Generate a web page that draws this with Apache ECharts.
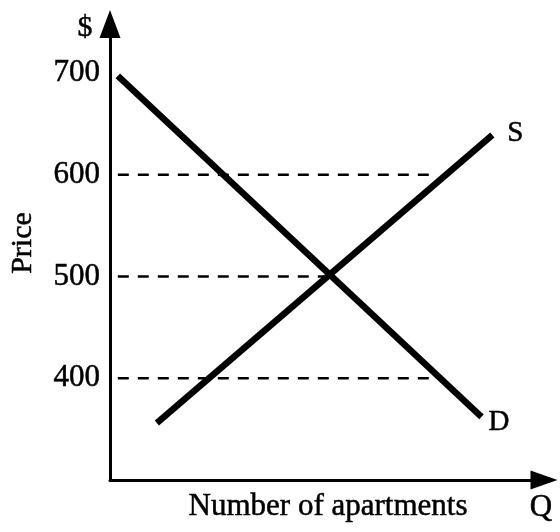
<!DOCTYPE html>
<html>
<head>
<meta charset="utf-8">
<script src="https://cdn.jsdelivr.net/npm/echarts@6/dist/echarts.min.js"></script>
<style>
  html, body { margin: 0; padding: 0; background: #fff; }
  #chart { width: 560px; height: 532px; }
</style>
</head>
<body>
<div id="chart"></div>
<script>
// 数据 (quantity is in arbitrary units, price in $)
var priceTicks = [400, 500, 600, 700];
var demandQ = [1.8, 85.6];
var demandP = [697, 362];
var supplyQ = [10.8, 88.1];
var supplyP = [356, 639];
var guidePrices = [600, 500, 400];
var guideStartQ = [1.8, 1.8, 1.8];
var guideEndQ = [73.6, 50.6, 73.6];

var serif = 'Liberation Serif';

function pairs(xs, ys) {
    return xs.map(function (x, i) { return [x, ys[i]]; });
}

function textEl(txt, x, y, size, rot) {
    return {
        type: 'text', x: x, y: y, rotation: rot || 0,
        style: {
            text: txt, font: size + 'px "Liberation Serif"', fill: '#000',
            stroke: '#000', lineWidth: 0.5,
            textAlign: 'center', textVerticalAlign: 'middle',
            align: 'center', verticalAlign: 'middle'
        }
    };
}

var chart = echarts.init(document.getElementById('chart'));

var series = [];
// dashed price lines
guidePrices.forEach(function (p, i) {
    series.push({
        type: 'line',
        showSymbol: false,
        silent: true,
        data: [[guideStartQ[i], p], [guideEndQ[i], p]],
        lineStyle: { color: '#000', width: 2.5, type: [11, 9] }
    });
});

var labelFont = {
    color: '#000', fontFamily: serif, fontSize: 29,
    textBorderColor: '#000', textBorderWidth: 0.5
};

series.push({
    name: 'D',
    type: 'line',
    showSymbol: false,
    data: pairs(demandQ, demandP),
    lineStyle: { color: '#000', width: 6.5 },
    endLabel: Object.assign({ show: true, formatter: 'D', distance: 5, offset: [2, 5] }, labelFont)
});
series.push({
    name: 'S',
    type: 'line',
    showSymbol: false,
    data: pairs(supplyQ, supplyP),
    lineStyle: { color: '#000', width: 6.5 },
    endLabel: Object.assign({ show: true, formatter: 'S', distance: 5, offset: [10, -2] }, labelFont)
});

chart.setOption({
    animation: false,
    backgroundColor: '#fff',
    grid: { left: 110, right: 16, top: 24, bottom: 52, outerBoundsMode: 'none', containLabel: false },
    xAxis: {
        type: 'value',
        min: 0,
        max: 100,
        axisLine: {
            show: true,
            onZero: false,
            symbol: ['none', 'triangle'],
            symbolSize: [19, 27],
            lineStyle: { color: '#000', width: 3 }
        },
        axisTick: { show: false },
        axisLabel: { show: false },
        splitLine: { show: false }
    },
    yAxis: {
        type: 'value',
        min: 300,
        max: 748,
        interval: 100,
        axisLine: {
            show: true,
            onZero: false,
            symbol: ['none', 'triangle'],
            symbolSize: [21, 28],
            lineStyle: { color: '#000', width: 3 }
        },
        axisTick: { show: false },
        splitLine: { show: false },
        axisLabel: {
            color: '#000',
            fontFamily: serif,
            fontSize: 31,
            margin: 10,
            textBorderColor: '#000',
            textBorderWidth: 0.5,
            showMaxLabel: false,
            formatter: function (v) {
                return priceTicks.indexOf(v) >= 0 ? String(v) : '';
            }
        }
    },
    graphic: [
        textEl('$', 85, 28, 30),
        textEl('Q', 541, 508, 31),
        textEl('Number of apartments', 328, 507, 31),
        textEl('Price', 23, 243, 30, Math.PI / 2)
    ],
    series: series
});
</script>
</body>
</html>
